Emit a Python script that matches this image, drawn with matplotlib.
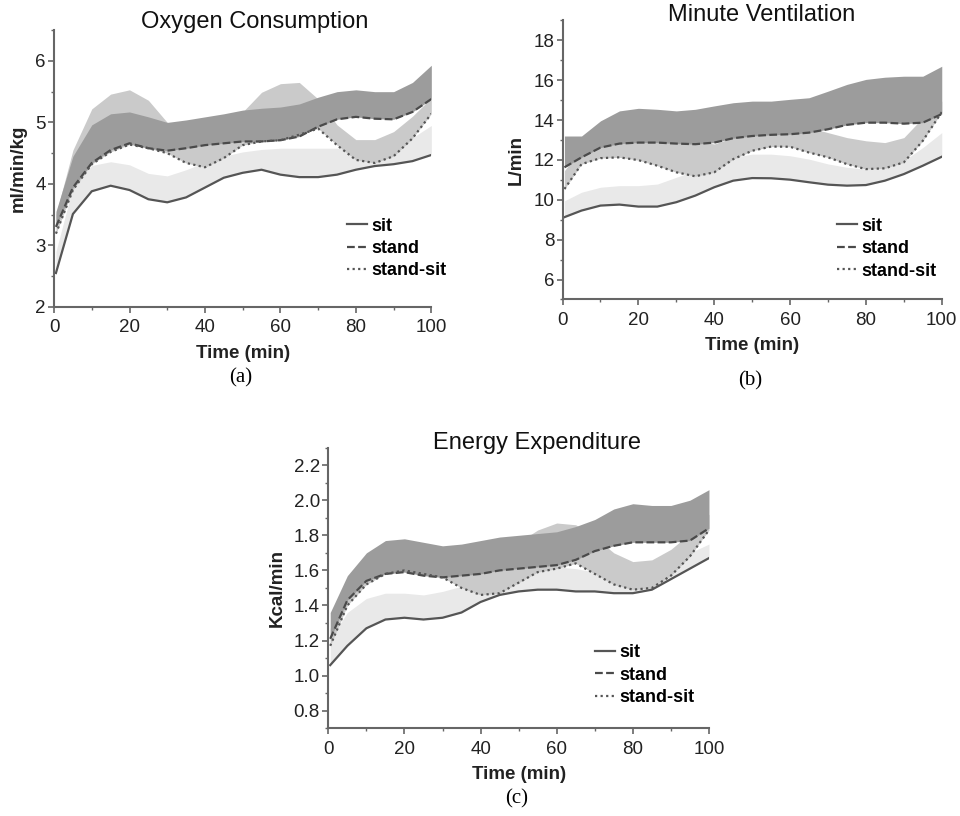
import matplotlib
matplotlib.use("Agg")
import matplotlib.pyplot as plt
from matplotlib.ticker import MultipleLocator

plt.rcParams['font.family'] = ['Liberation Sans', 'DejaVu Sans']

# time points (min)
t = [0.5, 5, 10, 15, 20, 25, 30, 35, 40, 45, 50, 55, 60, 65, 70, 75, 80, 85, 90, 95, 100]

# (a) Oxygen consumption, ml/min/kg : mean line and upper edge of band
o2_sit = [2.55, 3.51, 3.88, 3.97, 3.90, 3.75, 3.70, 3.78, 3.94, 4.10, 4.18, 4.23, 4.15, 4.11, 4.11, 4.15, 4.23, 4.29, 4.32, 4.37, 4.47]
o2_sit_up = [2.9, 3.95, 4.30, 4.36, 4.31, 4.17, 4.13, 4.23, 4.35, 4.45, 4.52, 4.56, 4.58, 4.58, 4.58, 4.58, 4.58, 4.60, 4.65, 4.75, 4.95]
o2_stand = [3.30, 3.94, 4.34, 4.55, 4.66, 4.58, 4.54, 4.58, 4.63, 4.66, 4.69, 4.69, 4.71, 4.77, 4.93, 5.05, 5.09, 5.06, 5.05, 5.17, 5.38]
o2_stand_up = [3.55, 4.45, 4.96, 5.14, 5.17, 5.09, 5.00, 5.04, 5.09, 5.14, 5.20, 5.23, 5.25, 5.30, 5.41, 5.50, 5.53, 5.50, 5.50, 5.65, 5.93]
o2_ss = [3.19, 3.90, 4.32, 4.52, 4.64, 4.58, 4.50, 4.34, 4.27, 4.42, 4.63, 4.69, 4.71, 4.80, 4.90, 4.63, 4.39, 4.34, 4.45, 4.74, 5.14]
o2_ss_up = [3.50, 4.55, 5.22, 5.46, 5.53, 5.36, 5.00, 4.90, 4.90, 4.98, 5.17, 5.49, 5.63, 5.65, 5.38, 4.96, 4.72, 4.72, 4.85, 5.10, 5.40]

# (b) Minute ventilation, L/min
ve_sit = [9.13, 9.46, 9.71, 9.76, 9.66, 9.66, 9.88, 10.21, 10.63, 10.96, 11.09, 11.08, 11.01, 10.88, 10.76, 10.71, 10.74, 10.96, 11.29, 11.71, 12.16]
ve_sit_up = [9.95, 10.38, 10.63, 10.71, 10.71, 10.79, 11.13, 11.46, 11.79, 12.13, 12.29, 12.29, 12.21, 12.04, 11.80, 11.63, 11.54, 11.63, 11.96, 12.62, 13.37]
ve_stand = [11.63, 12.13, 12.62, 12.82, 12.87, 12.87, 12.82, 12.79, 12.87, 13.09, 13.20, 13.26, 13.29, 13.37, 13.54, 13.76, 13.87, 13.87, 13.82, 13.87, 14.30]
ve_stand_up = [13.20, 13.20, 13.96, 14.46, 14.59, 14.54, 14.46, 14.54, 14.71, 14.87, 14.95, 14.95, 15.04, 15.12, 15.45, 15.79, 16.04, 16.15, 16.20, 16.20, 16.70]
ve_ss = [10.54, 11.79, 12.09, 12.13, 11.99, 11.71, 11.38, 11.18, 11.38, 12.04, 12.46, 12.67, 12.66, 12.37, 12.13, 11.79, 11.54, 11.58, 11.88, 12.96, 14.40]
ve_ss_up = [11.46, 12.62, 12.96, 13.20, 13.29, 13.37, 13.20, 12.96, 12.80, 13.12, 13.29, 13.37, 13.54, 13.62, 13.37, 13.12, 12.96, 12.87, 13.12, 14.12, 14.95]

# (c) Energy expenditure, Kcal/min
ee_sit = [1.06, 1.17, 1.27, 1.32, 1.33, 1.32, 1.33, 1.36, 1.42, 1.46, 1.48, 1.49, 1.49, 1.48, 1.48, 1.47, 1.47, 1.49, 1.55, 1.61, 1.67]
ee_sit_up = [1.21, 1.36, 1.44, 1.47, 1.47, 1.46, 1.48, 1.51, 1.54, 1.57, 1.59, 1.61, 1.62, 1.61, 1.59, 1.57, 1.55, 1.57, 1.62, 1.70, 1.75]
ee_stand = [1.21, 1.43, 1.54, 1.58, 1.59, 1.57, 1.56, 1.57, 1.58, 1.60, 1.61, 1.62, 1.63, 1.66, 1.71, 1.74, 1.76, 1.76, 1.76, 1.77, 1.84]
ee_stand_up = [1.36, 1.57, 1.70, 1.77, 1.78, 1.76, 1.74, 1.75, 1.77, 1.79, 1.80, 1.81, 1.82, 1.85, 1.89, 1.95, 1.98, 1.97, 1.97, 2.00, 2.06]
ee_ss = [1.17, 1.40, 1.52, 1.58, 1.60, 1.58, 1.56, 1.50, 1.46, 1.47, 1.53, 1.59, 1.61, 1.64, 1.58, 1.52, 1.49, 1.50, 1.57, 1.68, 1.83]
ee_ss_up = [1.27, 1.55, 1.68, 1.73, 1.75, 1.72, 1.66, 1.60, 1.61, 1.68, 1.76, 1.83, 1.87, 1.86, 1.79, 1.70, 1.65, 1.66, 1.72, 1.81, 1.92]

LIGHT, MED, DARK = '#e9e9e9', '#cacaca', '#9c9c9c'
LINE = '#555555'


def panel(rect, title, ylabel, ylim, ymaj, ymin, data, letter, letter_y, title_xy, leg_xy):
    ax = fig.add_axes(rect)
    sit, sit_up, stand, stand_up, ss, ss_up = data
    ax.fill_between(t, sit, sit_up, color=LIGHT, lw=0)
    ax.fill_between(t, ss, ss_up, color=MED, lw=0)
    ax.fill_between(t, stand, stand_up, color=DARK, lw=0)
    ax.plot(t, sit, color=LINE, lw=1.6, ls='-', label='sit')
    ax.plot(t, stand, color='#4a4a4a', lw=1.6, ls=(0, (3.5, 1.5)), label='stand')
    ax.plot(t, ss, color=LINE, lw=1.6, ls=(0, (1, 1.5)), label='stand-sit')

    ax.set_xlim(0, 100)
    ax.set_ylim(*ylim)
    ax.xaxis.set_major_locator(MultipleLocator(20))
    ax.xaxis.set_minor_locator(MultipleLocator(10))
    ax.yaxis.set_major_locator(MultipleLocator(ymaj))
    ax.yaxis.set_minor_locator(MultipleLocator(ymin))
    for s in ['top', 'right']:
        ax.spines[s].set_visible(False)
    for s in ['left', 'bottom']:
        ax.spines[s].set_color('#666666')
        ax.spines[s].set_linewidth(1.5)
    ax.tick_params(which='major', direction='out', length=4, width=1.2, color='#666666',
                   labelsize=13.5, labelcolor='#222222')
    ax.tick_params(axis='x', which='major', pad=5)
    ax.tick_params(axis='y', which='major', pad=2)
    ax.tick_params(which='minor', direction='out', length=2, width=1, color='#666666')

    ax.set_xlabel('Time (min)', fontsize=13.5, fontweight='bold', color='#222222', labelpad=6)
    ax.set_ylabel(ylabel, fontsize=13.5, fontweight='bold', color='#222222', labelpad=6)
    ax.text(title_xy[0], title_xy[1], title, transform=ax.transAxes, ha='center', va='center',
            fontsize=17, color='#111111')
    ax.text(0.495, letter_y, letter, transform=ax.transAxes, ha='center', va='center',
            fontsize=15, family='Liberation Serif', color='black')

    ax.legend(loc='upper left', bbox_to_anchor=leg_xy, frameon=False, borderpad=0,
              handlelength=1.1, handletextpad=0.25, labelspacing=0.3,
              prop={'weight': 'bold', 'size': 13})
    return ax


fig = plt.figure(figsize=(9.6, 8.16), dpi=100)

panel([0.0563, 0.624, 0.393, 0.339], 'Oxygen Consumption', 'ml/min/kg', (2, 6.5), 1, 0.5,
      (o2_sit, o2_sit_up, o2_stand, o2_stand_up, o2_ss, o2_ss_up), '(a)', -0.256,
      (0.533, 1.03), (0.753, 0.355))
panel([0.586, 0.633, 0.395, 0.342], 'Minute Ventilation', 'L/min', (5, 19), 2, 1,
      (ve_sit, ve_sit_up, ve_stand, ve_stand_up, ve_ss, ve_ss_up), '(b)', -0.29,
      (0.525, 1.018), (0.70, 0.325))
panel([0.342, 0.1075, 0.3965, 0.344], 'Energy Expenditure', 'Kcal/min', (0.7, 2.3), 0.2, 0.1,
      (ee_sit, ee_sit_up, ee_stand, ee_stand_up, ee_ss, ee_ss_up), '(c)', -0.25,
      (0.549, 1.018), (0.677, 0.331))

fig.savefig('out.png', dpi=100, facecolor='white')
